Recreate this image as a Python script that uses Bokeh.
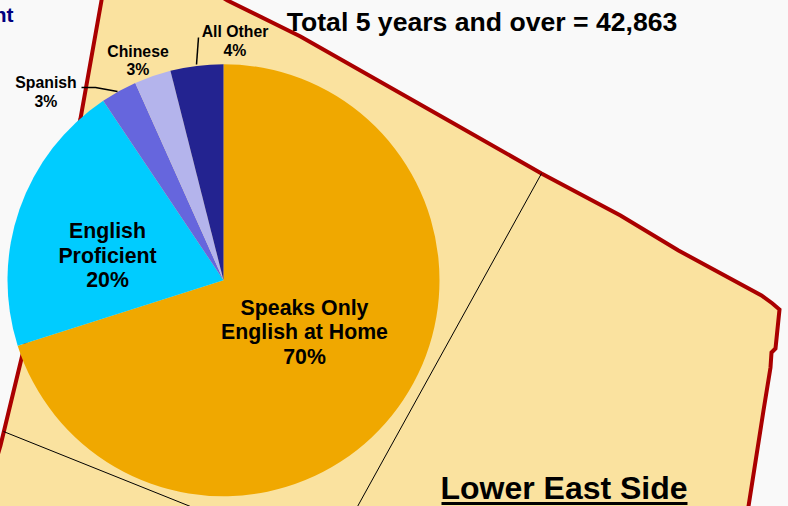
from math import pi
from bokeh.plotting import figure
from bokeh.models import Range1d
from bokeh.core.properties import value
from bokeh.embed import file_html
from bokeh.resources import INLINE

# Pie data (share of population 5 years and over)
categories = ["Speaks Only English at Home", "English Proficient", "Spanish", "Chinese", "All Other"]
shares = [70.1, 20.5, 2.7, 2.75, 3.95]
slice_colors = ["#F0A800", "#00CCFF", "#6666DD", "#B4B4EC", "#232390"]

# Map background geometry, in picture pixels
area_x = [101, 80, 21, 0, -9, -9, 745, 763, 770, 771, 775, 779, 772, 761, 678, 620, 541, 455, 300, 227, 195, 101]
area_y = [0, 118, 358, 445, 475, 525, 525, 410, 367, 352, 348, 309, 303, 295, 250, 215, 173, 124, 36, 0, -20, -20]
tract1_x = [541, 357]
tract1_y = [173, 506]
tract2_x = [3, 190]
tract2_y = [431, 506]
spanish_lead_x = [81, 95, 117]
spanish_lead_y = [87, 87, 91]
other_lead_x = [198, 196]
other_lead_y = [37, 64]

W, H = 796, 514
p = figure(width=W, height=H, output_backend="svg", toolbar_location=None,
           x_range=Range1d(-8, W - 8), y_range=Range1d(H - 8, -8), min_border=0,
           background_fill_color="#F9F9F9", border_fill_color="#F9F9F9",
           outline_line_color=None, margin=(-8, 0, 0, -8))
p.axis.visible = False
p.grid.visible = False

p.patch(area_x, area_y, fill_color="#FAE29F", line_color="#AA0000", line_width=4, line_join="miter")
p.line(tract1_x, tract1_y, line_color="black", line_width=1)
p.line(tract2_x, tract2_y, line_color="black", line_width=1)

# Pie: clockwise from 12 o'clock
cx, cy, r = 223, 279.7, 216
total = sum(shares)
a = pi / 2
starts, ends = [], []
for s in shares:
    b = a - s / total * 2 * pi
    starts.append(b)
    ends.append(a)
    a = b
p.wedge(x=[cx] * 5, y=[cy] * 5, radius=r, start_angle=starts, end_angle=ends,
        fill_color=slice_colors, line_color=None)

p.line(spanish_lead_x, spanish_lead_y, line_color="black", line_width=1.5)
p.line(other_lead_x, other_lead_y, line_color="black", line_width=1.5)

def label(x, y, t, size, color="black", align="center"):
    p.text([x], [y], text=[t], text_font=value("Liberation Sans"), text_font_style="bold",
           text_font_size=f"{size}px", text_color=color, text_align=align, text_baseline="middle")

label(481.5, 21.5, "Total 5 years and over = 42,863", 26.6)
label(13, 14, "nt", 21, "#000080", "right")
label(304, 307.5, "Speaks Only", 21.3)
label(304, 331.5, "English at Home", 21.3)
label(304, 356.5, "70%", 21.3)
label(107, 230.5, "English", 21.3)
label(107, 255.5, "Proficient", 21.3)
label(107, 279.5, "20%", 21.3)
label(45.5, 81.5, "Spanish", 15.8)
label(45.5, 100.5, "3%", 15.8)
label(137.5, 50.5, "Chinese", 15.8)
label(137.5, 68.5, "3%", 15.8)
label(234.5, 30.5, "All Other", 15.8)
label(234.5, 49.5, "4%", 15.8)
label(563.5, 487.5, "Lower East Side", 32)
p.line([441, 687], [503, 503], line_color="black", line_width=3)

open("out.html", "w").write(file_html(p, INLINE))
